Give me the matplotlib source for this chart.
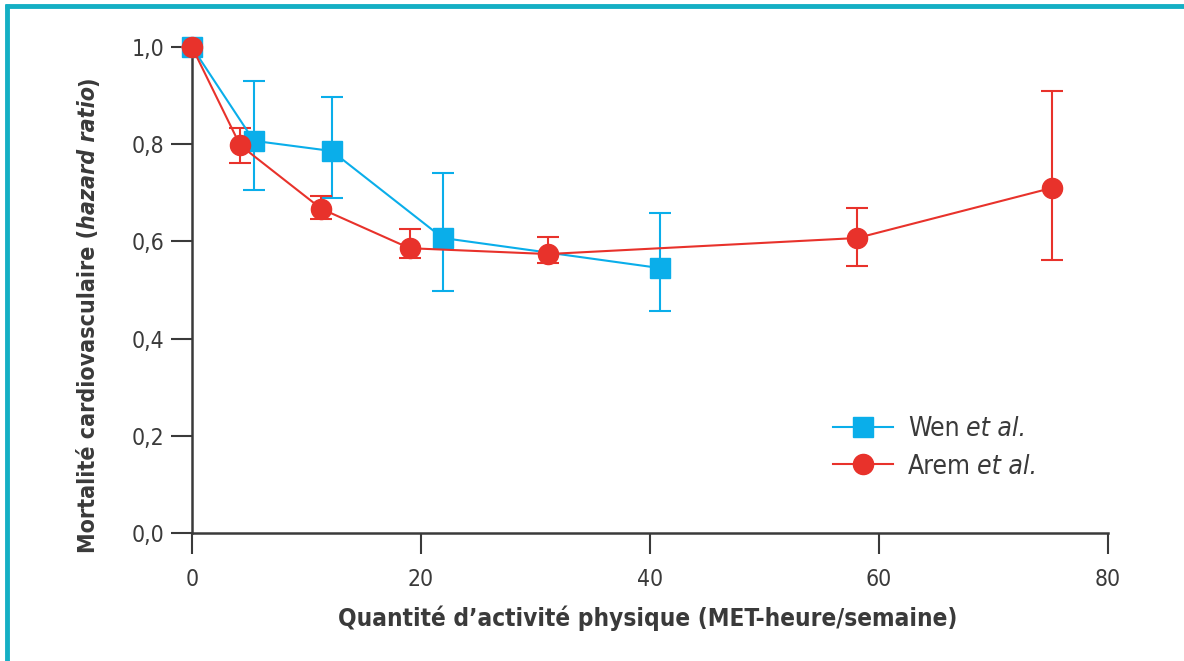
import matplotlib.pyplot as plt
import matplotlib.lines as mlines
import numpy as np

# data
wen_x = [0, 5.4, 12.2, 21.9, 40.9]
wen_y = [1.0, 0.807, 0.786, 0.607, 0.545]
wen_lo = [1.0, 0.706, 0.689, 0.498, 0.457]
wen_hi = [1.0, 0.930, 0.897, 0.741, 0.658]

arem_x = [0, 4.2, 11.3, 19.0, 31.1, 58.1, 75.1]
arem_y = [1.0, 0.798, 0.667, 0.586, 0.574, 0.607, 0.710]
arem_lo = [1.0, 0.761, 0.646, 0.566, 0.555, 0.549, 0.562]
arem_hi = [1.0, 0.833, 0.693, 0.626, 0.609, 0.669, 0.909]

x_ticks = [0, 20, 40, 60, 80]
y_ticks = [0.0, 0.2, 0.4, 0.6, 0.8, 1.0]
y_ticklabels = ['0,0', '0,2', '0,4', '0,6', '0,8', '1,0']

BLUE = '#0aaeea'
RED = '#e8322b'
TEAL = '#14afc4'
DARK = '#3a3a3a'
W, H = 1184, 661

plt.rcParams['font.family'] = ['DejaVu Sans']
plt.rcParams['font.stretch'] = 'condensed'

fig = plt.figure(figsize=(W / 100, H / 100), dpi=100)
ax = fig.add_axes([192 / W, 1 - 533 / H, (1108 - 192) / W, (533 - 47) / H])
renderer = fig.canvas.get_renderer()

# frame lines (left and top only)
fig.add_artist(mlines.Line2D([7 / W, 7 / W], [0, 1 - 4 / H], transform=fig.transFigure,
                             color=TEAL, lw=3.5, solid_capstyle='butt'))
fig.add_artist(mlines.Line2D([5 / W, 1.0], [1 - 6 / H, 1 - 6 / H], transform=fig.transFigure,
                             color=TEAL, lw=3.5, solid_capstyle='butt'))


def plot_series(x, y, lo, hi, color, marker, ms, label):
    y = np.array(y)
    yerr = [y - np.array(lo), np.array(hi) - y]
    return ax.errorbar(x, y, yerr=yerr, color=color, marker=marker, markersize=ms,
                       lw=1.5, elinewidth=1.5, capsize=8, capthick=1.5,
                       label=label, clip_on=False, zorder=3)


eb_wen = plot_series(wen_x, wen_y, wen_lo, wen_hi, BLUE, 's', 15, 'Wen')
eb_arem = plot_series(arem_x, arem_y, arem_lo, arem_hi, RED, 'o', 14.5, 'Arem')

ax.set_xlim(0, 80)
ax.set_ylim(0, 1.0)
ax.set_xticks(x_ticks)
ax.set_yticks(y_ticks)
ax.set_yticklabels(y_ticklabels)

for side in ['top', 'right']:
    ax.spines[side].set_visible(False)
for side in ['left', 'bottom']:
    ax.spines[side].set_color(DARK)
    ax.spines[side].set_linewidth(1.8)
ax.tick_params(axis='both', direction='out', length=15, width=1.5, color=DARK,
               labelsize=16.5, labelcolor=DARK, pad=5)
ax.tick_params(axis='x', pad=10)


def text_width(s, **kw):
    t = fig.text(0, 0, s, **kw)
    w = t.get_window_extent(renderer).width
    t.remove()
    return w


def draw_pieces(x, y, pieces, rotation=0, **kw):
    """draw mixed-style text from (string, style, weight) pieces, x/y in pixels"""
    for s, style, weight in pieces:
        fig.text(x / W, y / H, s, style=style, weight=weight, rotation=rotation,
                 rotation_mode='anchor', ha='left', va='baseline', **kw)
        w = text_width(s.replace(' ', '\u00a0'), style=style, weight=weight, **kw)
        if rotation == 90:
            y += w
        else:
            x += w


# x label
fig.text(648 / W, 1 - 626 / H, "Quantité d’activité physique (MET-heure/semaine)",
         ha='center', va='baseline', fontsize=17.5, weight='bold', color=DARK)

# y label (mixed bold / bold italic)
YFS = 16.7
ylab = [('Mortalité cardiovasculaire (', 'normal', 'bold'),
        ('hazard ratio', 'italic', 'bold'),
        (')', 'normal', 'bold')]
total = sum(text_width(s.replace(' ', '\u00a0'), style=st, weight=wt, fontsize=YFS)
            for s, st, wt in ylab)
draw_pieces(95, (H - 315) - total / 2, ylab, rotation=90, fontsize=YFS, color=DARK)

# legend, with "et al." in italics appended after each label
LFS = 19
leg = ax.legend([eb_wen[0], eb_arem[0]], ['Wen', 'Arem'], loc='upper left',
                bbox_to_anchor=(0.674, 0.29), frameon=False, fontsize=LFS,
                handlelength=2.27, labelspacing=0.45, handletextpad=0.57,
                labelcolor=DARK)
fig.canvas.draw()
for t in leg.get_texts():
    bb = t.get_window_extent(renderer)
    xb, yb = t.get_transform().transform(t.get_position())
    space = text_width('\u00a0', fontsize=LFS) * 0.8
    fig.text((bb.x1 + space) / W, yb / H, 'et al.', style='italic', fontsize=LFS,
             color=DARK, ha='left', va=t.get_va())

fig.savefig('out.png', dpi=100, facecolor='white')
